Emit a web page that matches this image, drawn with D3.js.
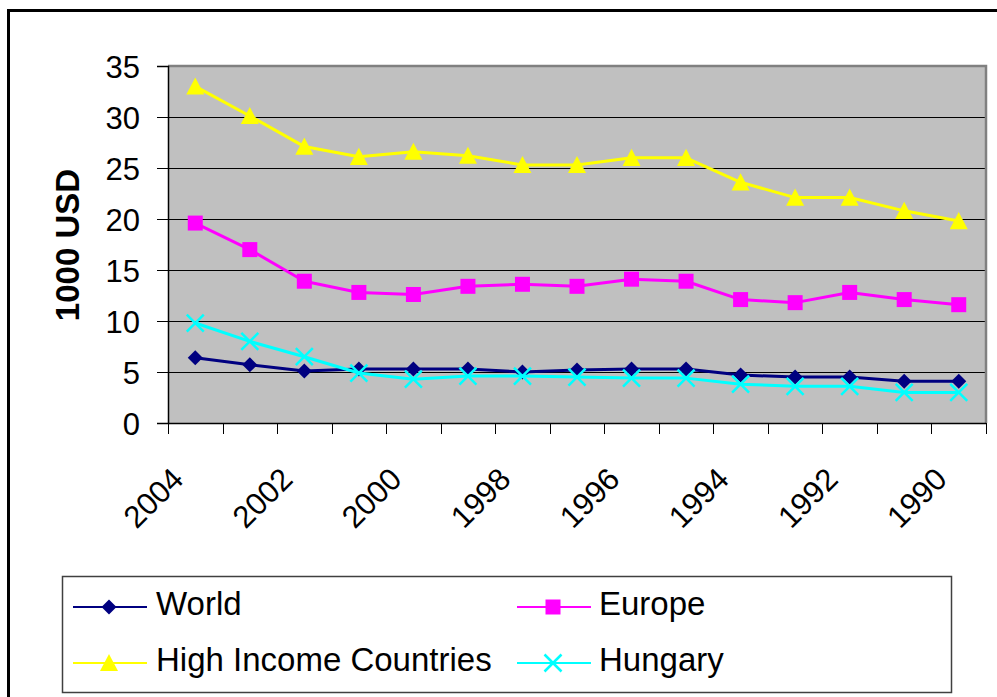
<!DOCTYPE html>
<html>
<head>
<meta charset="utf-8">
<script src="https://cdn.jsdelivr.net/npm/d3@7/dist/d3.min.js"></script>
<style>
  html, body { margin: 0; padding: 0; background: #fff; }
  svg { display: block; }
  text { font-family: "Liberation Sans", Arial, sans-serif; fill: #000; }
</style>
</head>
<body>
<svg id="chart" width="997" height="697"></svg>
<script>
// ---- Data ----
const categories = ["2004","2003","2002","2001","2000","1999","1998","1997","1996","1995","1994","1993","1992","1991","1990"];
const tickLabels = ["2004","2002","2000","1998","1996","1994","1992","1990"];
const yTicks = [0, 5, 10, 15, 20, 25, 30, 35];
const seriesNames = ["World", "Europe", "High Income Countries", "Hungary"];
const world   = [6.4, 5.7, 5.1, 5.3, 5.3, 5.3, 5.0, 5.2, 5.3, 5.3, 4.7, 4.5, 4.5, 4.1, 4.1];
const europe  = [19.6, 17.0, 13.9, 12.8, 12.6, 13.4, 13.6, 13.4, 14.1, 13.9, 12.1, 11.8, 12.8, 12.1, 11.6];
const highInc = [33.0, 30.1, 27.1, 26.1, 26.6, 26.2, 25.3, 25.3, 26.0, 26.0, 23.6, 22.1, 22.1, 20.8, 19.8];
const hungary = [9.8, 8.0, 6.5, 4.9, 4.3, 4.6, 4.6, 4.5, 4.4, 4.4, 3.8, 3.6, 3.6, 3.0, 3.0];

const series = [
  { name: seriesNames[0], values: world,   color: "#000080", marker: "diamond" },
  { name: seriesNames[1], values: europe,  color: "#FF00FF", marker: "square" },
  { name: seriesNames[2], values: highInc, color: "#FFFF00", marker: "triangle" },
  { name: seriesNames[3], values: hungary, color: "#00FFFF", marker: "x" }
];

const svg = d3.select("#chart");

// Outer chart frame
svg.append("rect")
  .attr("x", 8.5).attr("y", 10.5)
  .attr("width", 1100).attr("height", 800)
  .attr("fill", "#fff").attr("stroke", "#000").attr("stroke-width", 3);

const plot = { left: 168, right: 986, top: 66, bottom: 423 };

const x = d3.scaleBand().domain(categories).range([plot.left, plot.right]).padding(0);
const y = d3.scaleLinear().domain([0, 35]).range([plot.bottom, plot.top]);
const cx = c => x(c) + x.bandwidth() / 2;

// Plot background
svg.append("rect")
  .attr("x", plot.left).attr("y", plot.top)
  .attr("width", plot.right - plot.left).attr("height", plot.bottom - plot.top)
  .attr("fill", "#C0C0C0");

// Gridlines
svg.append("g").selectAll("line")
  .data(yTicks.filter(d => d > 0))
  .join("line")
  .attr("x1", plot.left).attr("x2", plot.right)
  .attr("y1", d => Math.round(y(d)) + 0.5).attr("y2", d => Math.round(y(d)) + 0.5)
  .attr("stroke", "#000").attr("stroke-width", 1);

// Plot border (top & right gray)
svg.append("path")
  .attr("d", `M${plot.left},${plot.top} H${plot.right} V${plot.bottom}`)
  .attr("fill", "none").attr("stroke", "#808080").attr("stroke-width", 2.5);

// Y axis
const yAxis = d3.axisLeft(y).tickValues(yTicks).tickSize(11).tickPadding(17).tickFormat(d3.format("d"));
const gy = svg.append("g").attr("transform", `translate(${plot.left},0)`).call(yAxis);
gy.select(".domain").attr("stroke", "#000").attr("stroke-width", 1.5);
gy.selectAll(".tick line").attr("stroke", "#000").attr("stroke-width", 1);
gy.selectAll(".tick text")
  .style("font-family", "'Liberation Sans', Arial, sans-serif")
  .style("font-size", "31px").attr("fill", "#000").attr("dy", "0.36em");

// X axis line
svg.append("line")
  .attr("x1", plot.left).attr("x2", plot.right)
  .attr("y1", plot.bottom + 0.5).attr("y2", plot.bottom + 0.5)
  .attr("stroke", "#000").attr("stroke-width", 1.5);

// X ticks at band boundaries
const boundaries = categories.map(c => x(c)).concat([x.range()[1]]);
svg.append("g").selectAll("line")
  .data(boundaries)
  .join("line")
  .attr("x1", d => Math.round(d) + 0.5).attr("x2", d => Math.round(d) + 0.5)
  .attr("y1", plot.bottom).attr("y2", plot.bottom + 11)
  .attr("stroke", "#000").attr("stroke-width", 1);

// X labels
svg.append("g").selectAll("text")
  .data(tickLabels)
  .join("text")
  .attr("transform", d => `translate(${cx(d) - 10},481) rotate(-45)`)
  .attr("text-anchor", "end")
  .style("font-size", "31px")
  .text(d => d);

// Y title
svg.append("text")
  .attr("transform", "translate(79,245) rotate(-90)")
  .attr("text-anchor", "middle")
  .style("font-size", "33px").style("font-weight", "bold")
  .text("1000 USD");

// Marker drawing
function drawMarker(g, type, color, s) {
  if (type === "diamond") {
    g.append("path").attr("d", `M0,${-s} L${s},0 L0,${s} L${-s},0 Z`).attr("fill", color);
  } else if (type === "square") {
    g.append("rect").attr("x", -s).attr("y", -s).attr("width", 2 * s).attr("height", 2 * s).attr("fill", color);
  } else if (type === "triangle") {
    g.append("path").attr("d", `M0,${-s} L${s},${s * 0.9} L${-s},${s * 0.9} Z`).attr("fill", color);
  } else if (type === "x") {
    g.append("path").attr("d", `M${-s},${-s} L${s},${s} M${s},${-s} L${-s},${s}`)
      .attr("stroke", color).attr("stroke-width", 2.5).attr("fill", "none");
  }
}
const markerSize = { diamond: 7.5, square: 7.5, triangle: 9, x: 8.5 };

const line = d3.line().x((d, i) => cx(categories[i])).y(d => y(d));

series.forEach(s => {
  const g = svg.append("g");
  g.append("path")
    .attr("d", line(s.values))
    .attr("fill", "none").attr("stroke", s.color).attr("stroke-width", 3)
    .attr("stroke-linejoin", "round");
  s.values.forEach((v, i) => {
    const mg = g.append("g").attr("transform", `translate(${cx(categories[i])},${y(v)})`);
    drawMarker(mg, s.marker, s.color, markerSize[s.marker]);
  });
});

// Legend
svg.append("rect")
  .attr("x", 62.5).attr("y", 576.5).attr("width", 889).attr("height", 116)
  .attr("fill", "#fff").attr("stroke", "#404040").attr("stroke-width", 1.5);

const legendPos = [
  { lx: 73, ly: 607, tx: 156, ty: 615 },
  { lx: 517, ly: 607, tx: 599, ty: 615 },
  { lx: 73, ly: 663, tx: 156, ty: 671 },
  { lx: 517, ly: 663, tx: 599, ty: 671 }
];
series.forEach((s, i) => {
  const p = legendPos[i];
  const g = svg.append("g");
  g.append("line").attr("x1", p.lx).attr("x2", p.lx + 74)
    .attr("y1", p.ly).attr("y2", p.ly)
    .attr("stroke", s.color).attr("stroke-width", 2);
  const mg = g.append("g").attr("transform", `translate(${p.lx + 36},${p.ly})`);
  drawMarker(mg, s.marker, s.color, markerSize[s.marker]);
  g.append("text").attr("x", p.tx).attr("y", p.ty)
    .style("font-size", "33px").text(s.name);
});
</script>
</body>
</html>
